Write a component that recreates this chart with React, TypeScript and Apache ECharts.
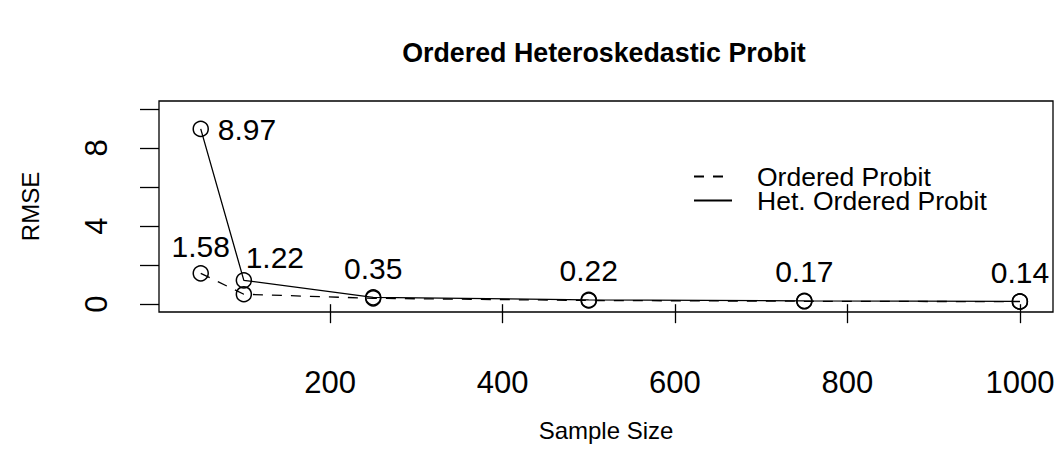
import React, { useEffect, useRef } from "react";
import * as echarts from "echarts";

const sampleSizes = [50, 100, 250, 500, 750, 1000];
const orderedProbit = [1.58, 0.51, 0.30, 0.19, 0.15, 0.13];
const hetOrderedProbit = [8.97, 1.22, 0.35, 0.22, 0.17, 0.14];
const xTicks = [200, 400, 600, 800, 1000];
const yTicks = [0, 2, 4, 6, 8, 10];
const yTickLabels = [0, 4, 8];
const seriesNames = ["Ordered Probit", "Het. Ordered Probit"];
const chartTitle = "Ordered Heteroskedastic Probit";
const xTitle = "Sample Size";
const yTitle = "RMSE";

const FONT = "Liberation Sans, Arial, Helvetica, sans-serif";

export default function App() {
  const ref = useRef<HTMLDivElement>(null);
  useEffect(() => {
    if (!ref.current) return;
    const chart = echarts.init(ref.current, null, { renderer: "svg" });
    const lbl = (offset: number[], align = "center") => ({
      show: true,
      position: "inside",
      align,
      verticalAlign: "middle",
      offset,
      color: "#000",
      fontSize: 30,
      fontFamily: FONT,
      formatter: (p: any) => Number(p.value[1]).toFixed(2),
    });
    const hetLabels = [
      lbl([17, 1], "left"),
      lbl([31, -23]),
      lbl([0, -29]),
      lbl([0, -29]),
      lbl([0, -29]),
      lbl([0, -29]),
    ];
    const symbolStyle = {
      color: "transparent",
      borderColor: "#000",
      borderWidth: 1.5,
    };
    const option: any = {
      animation: false,
      backgroundColor: "#fff",
      title: {
        text: chartTitle,
        left: 604,
        top: 39,
        textAlign: "center",
        padding: 0,
        textStyle: { fontFamily: FONT, fontWeight: "bold", fontSize: 26.8, color: "#000" },
      },
      legend: {
        orient: "vertical",
        left: 693,
        top: 163,
        padding: 0,
        itemWidth: 38,
        itemHeight: 14,
        itemGap: -3,
        itemStyle: { opacity: 0 },
        data: seriesNames,
        formatter: (n: string) => "{t|" + n + "}",
        textStyle: {
          fontFamily: FONT,
          fontSize: 26.5,
          color: "#000",
          lineHeight: 23,
          rich: { t: { fontFamily: FONT, fontSize: 26.5, color: "#000", lineHeight: 23, padding: [0, 0, 0, 20] } },
        },
      },
      grid: {
        show: true,
        left: 159,
        right: 6,
        top: 101,
        bottom: 157,
        borderColor: "#000",
        borderWidth: 1.3,
        backgroundColor: "transparent",
      },
      xAxis: {
        type: "value",
        min: 1.6,
        max: 1038.4,
        name: xTitle,
        nameLocation: "middle",
        nameGap: 106,
        nameTextStyle: { fontFamily: FONT, fontSize: 24, color: "#000" },
        axisLine: { show: false },
        splitLine: { show: false },
        axisTick: {
          show: true,
          length: 19,
          customValues: xTicks,
          lineStyle: { color: "#000", width: 1.3 },
        },
        axisLabel: {
          customValues: xTicks,
          margin: 55,
          fontFamily: FONT,
          fontSize: 31,
          color: "#000",
          formatter: (v: number) => String(v),
        },
      },
      yAxis: {
        type: "value",
        min: -0.4,
        max: 10.4,
        name: yTitle,
        nameLocation: "middle",
        nameRotate: 90,
        nameGap: 117,
        nameTextStyle: { fontFamily: FONT, fontSize: 24, color: "#000" },
        axisLine: { show: false },
        splitLine: { show: false },
        axisTick: {
          show: true,
          length: 19,
          customValues: yTicks,
          lineStyle: { color: "#000", width: 1.3 },
        },
        axisLabel: {
          customValues: yTickLabels,
          rotate: 90,
          margin: 47,
          fontFamily: FONT,
          fontSize: 31,
          color: "#000",
          formatter: (v: number) => String(v),
        },
      },
      series: [
        {
          name: seriesNames[0],
          type: "line",
          symbol: "circle",
          symbolSize: 15,
          itemStyle: symbolStyle,
          lineStyle: { color: "#000", width: 1.3, type: [10, 9] },
          data: sampleSizes.map((x, i) => ({
            value: [x, orderedProbit[i]],
            label: i === 0 ? lbl([0, -27]) : { show: false },
          })),
          z: 2,
        },
        {
          name: seriesNames[1],
          type: "line",
          symbol: "circle",
          symbolSize: 15,
          itemStyle: symbolStyle,
          lineStyle: { color: "#000", width: 1.3 },
          data: sampleSizes.map((x, i) => ({
            value: [x, hetOrderedProbit[i]],
            label: hetLabels[i],
          })),
          z: 3,
        },
      ],
    };
    chart.setOption(option);
    return () => chart.dispose();
  }, []);
  return (
    <div
      ref={ref}
      style={{ position: "fixed", left: 0, top: 0, width: 1059, height: 469, background: "#fff" }}
    />
  );
}
